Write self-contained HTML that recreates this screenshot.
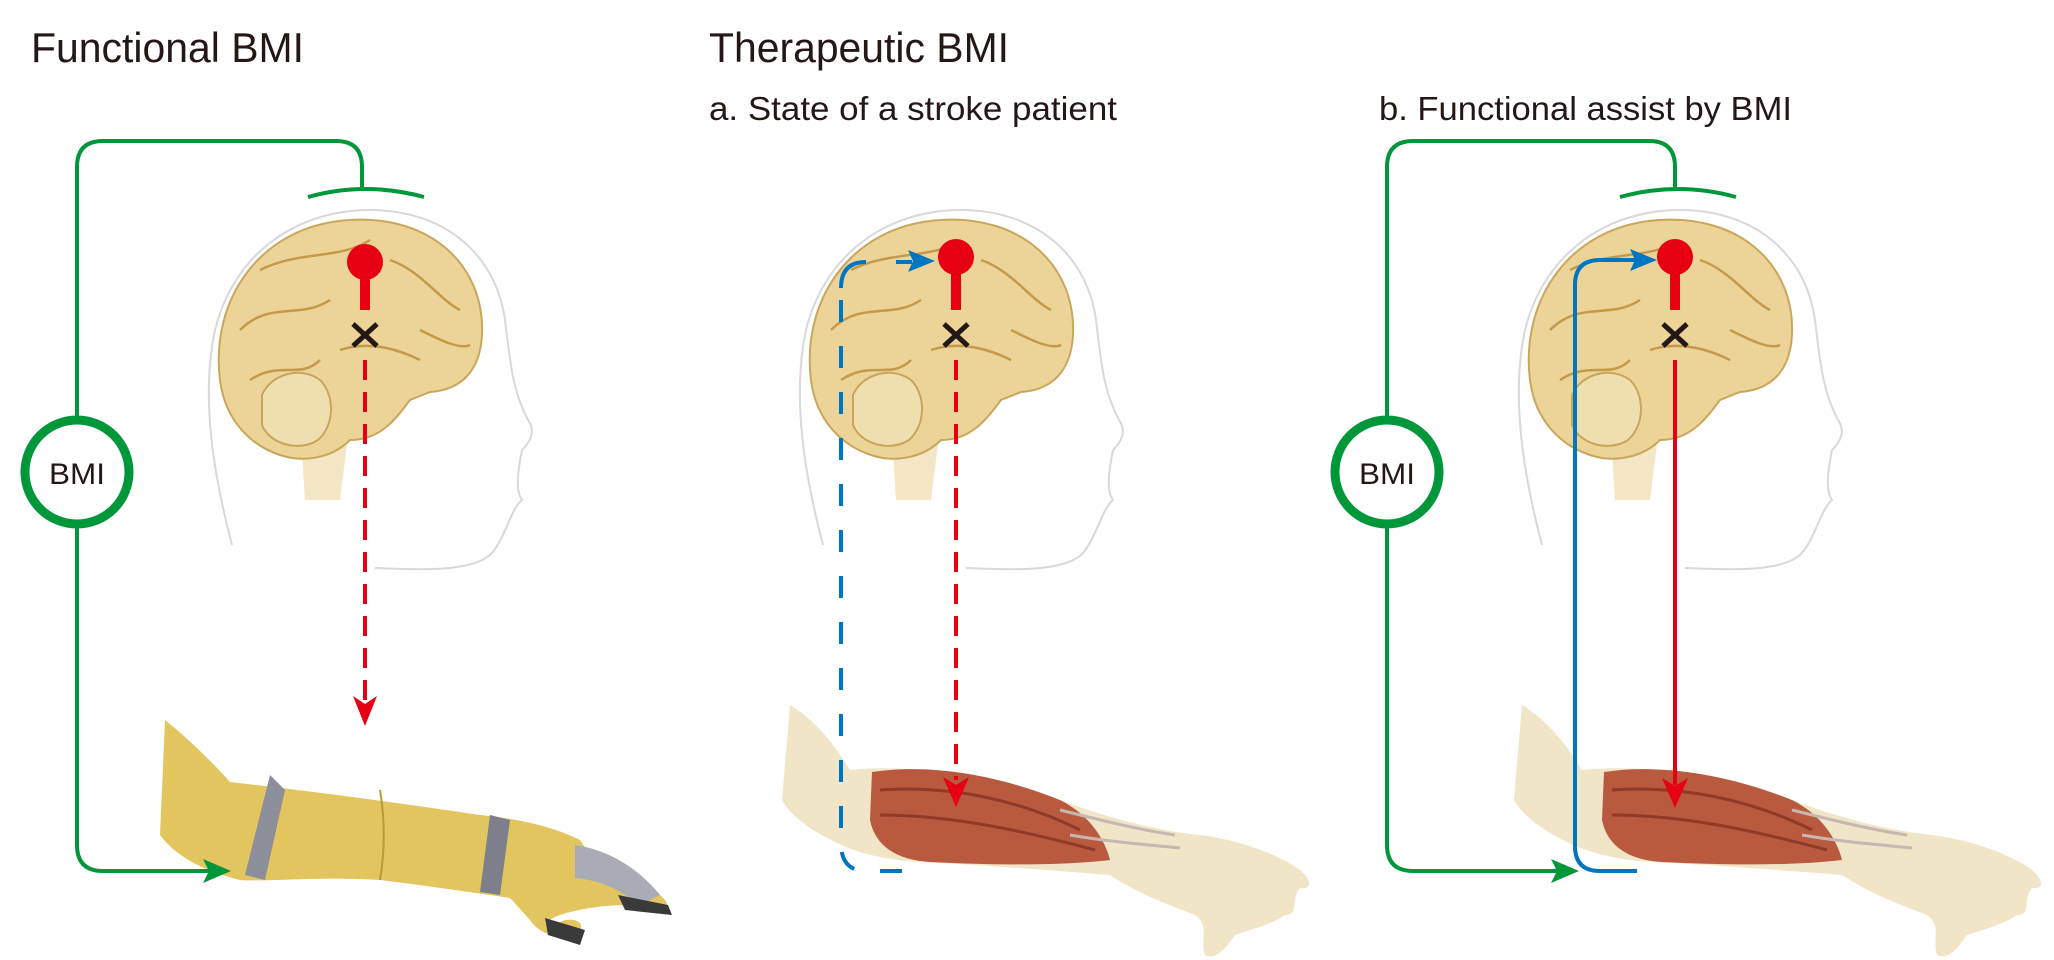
<!DOCTYPE html>
<html><head><meta charset="utf-8"><style>
html,body{margin:0;padding:0;background:#fff;}
svg{display:block;}
text{font-family:"Liberation Sans",sans-serif;fill:#231815;}
</style></head><body>
<svg width="2054" height="960" viewBox="0 0 2054 960" xmlns="http://www.w3.org/2000/svg">
<defs>
<g id="head">
  <!-- head outline -->
  <path d="M232 545 C215 480 200 400 215 330 C235 250 300 210 370 210 C440 210 495 250 505 320 C510 360 512 390 528 420 C535 430 532 440 522 450 C518 470 515 490 522 500 C510 510 505 540 490 555 C470 572 420 570 375 568" fill="none" stroke="#d8d8d8" stroke-width="2"/>
  <!-- brainstem -->
  <path d="M300 420 L350 420 L340 500 L305 500 Z" fill="#f3e6c4"/>
  <!-- brain -->
  <path d="M220 380 C210 300 260 225 350 220 C430 215 485 265 482 335 C480 372 460 390 430 392 L410 400 C395 420 380 440 350 440 C330 460 300 462 280 455 C250 445 225 420 220 380 Z" fill="#ecd498" stroke="#caa65a" stroke-width="2"/>
  <path d="M240 330 C270 300 300 320 330 300 M260 270 C300 250 340 260 370 240 M390 260 C420 270 440 300 460 310 M250 380 C280 360 300 380 320 360 M420 330 C440 340 460 350 470 345 M340 350 C370 340 400 350 420 360" fill="none" stroke="#c49a4a" stroke-width="2.5"/>
  <!-- cerebellum -->
  <path d="M262 395 C270 375 300 365 320 380 C335 395 335 425 318 440 C300 452 270 445 262 425 Z" fill="#f0dfae" stroke="#c9a55c" stroke-width="2"/>
</g>
<g id="muscarm">
  <path d="M790 705 C815 720 835 745 850 770 C900 765 980 770 1060 800 C1100 815 1150 830 1200 835 C1240 840 1280 855 1300 870 C1312 880 1312 890 1300 888 C1290 900 1300 915 1285 915 C1270 925 1250 930 1235 935 C1225 950 1215 960 1205 955 C1200 940 1210 925 1195 915 C1170 905 1140 895 1110 875 C1050 870 980 865 920 862 C880 860 850 850 835 842 C810 830 790 815 782 800 Z" fill="#f1e5c8"/>
  <path d="M872 772 C940 762 1010 780 1060 800 C1090 815 1105 840 1110 860 C1060 866 990 865 930 862 C895 860 875 845 870 820 Z" fill="#b95a3e"/>
  <path d="M880 790 C950 785 1020 800 1080 830 M880 815 C950 815 1020 830 1095 850" stroke="#8f3a26" stroke-width="3" fill="none"/>
  <path d="M1060 810 C1100 820 1140 830 1175 835 M1070 835 C1110 842 1150 845 1180 848" stroke="#c8b6b0" stroke-width="3" fill="none"/>
</g>
</defs>

<!-- titles -->
<text x="31" y="62" font-size="42" textLength="273" lengthAdjust="spacingAndGlyphs">Functional BMI</text>
<text x="709" y="62" font-size="42" textLength="300" lengthAdjust="spacingAndGlyphs">Therapeutic BMI</text>
<text x="709" y="120" font-size="33" textLength="408" lengthAdjust="spacingAndGlyphs">a. State of a stroke patient</text>
<text x="1379" y="120" font-size="33" textLength="413" lengthAdjust="spacingAndGlyphs">b. Functional assist by BMI</text>

<!-- heads -->
<use href="#head"/>
<use href="#head" transform="translate(591,0)"/>
<use href="#head" transform="translate(1310,0)"/>

<!-- prosthetic arm panel 1 -->
<g>
  <path d="M165 720 C190 740 215 765 230 782 C300 790 380 800 480 815 C530 820 560 830 580 840 L600 870 C620 880 640 885 660 895 C672 905 668 912 655 910 L630 905 C600 905 575 910 560 915 C545 920 540 930 560 922 C575 915 590 925 575 935 C560 940 540 935 530 920 L510 898 C470 892 420 885 380 880 C320 876 270 882 240 880 C200 870 175 855 160 835 Z" fill="#e3c560"/>
  <path d="M380 790 C385 820 385 850 380 880" stroke="#b79a3c" stroke-width="2" fill="none"/>
  <path d="M270 775 L285 790 L265 880 L245 875 Z" fill="#8c8f99"/>
  <path d="M490 815 L510 820 L500 895 L480 892 Z" fill="#7d808a"/>
  <path d="M575 845 C610 850 640 870 660 895 L640 905 C620 890 600 880 575 878 Z" fill="#a9acb4"/>
  <path d="M618 895 L668 905 L672 915 L625 910 Z" fill="#3a3a3a"/>
  <path d="M545 918 L585 930 L580 945 L548 935 Z" fill="#3a3a3a"/>
</g>

<!-- muscle arms -->
<use href="#muscarm"/>
<use href="#muscarm" transform="translate(732,0)"/>

<!-- ===== panel 1 connectors ===== -->
<g fill="none" stroke="#00973b" stroke-width="4">
  <path d="M77 416 L77 167 Q77 141 103 141 L336 141 Q362 141 362 167 L362 190"/>
  <path d="M308 197 Q365 181 424 197"/>
  <path d="M77 528 L77 845 Q77 871 103 871 L210 871"/>
  <circle cx="77" cy="472" r="52" stroke-width="9"/>
</g>
<path d="M231 871 L203 859 L209 871 L203 883 Z" fill="#00973b"/>
<text x="77" y="484" font-size="30" text-anchor="middle" textLength="56" lengthAdjust="spacingAndGlyphs">BMI</text>

<circle cx="365" cy="262" r="18" fill="#e60012"/>
<rect x="360" y="262" width="10" height="48" fill="#e60012"/>
<path d="M353 324 L377 346 M377 324 L353 346" stroke="#231815" stroke-width="5"/>
<path d="M365 360 L365 700" stroke="#e60012" stroke-width="4" stroke-dasharray="20 12"/>
<path d="M365 726 L353 696 L365 704 L377 696 Z" fill="#e60012"/>

<!-- ===== panel 2 connectors ===== -->
<circle cx="956" cy="257" r="18" fill="#e60012"/>
<rect x="951" y="257" width="10" height="53" fill="#e60012"/>
<path d="M944 324 L968 346 M968 324 L944 346" stroke="#231815" stroke-width="5"/>
<path d="M956 360 L956 780" stroke="#e60012" stroke-width="4" stroke-dasharray="20 12"/>
<path d="M956 807 L943 777 L956 785 L969 777 Z" fill="#e60012"/>
<path d="M841 288 Q841 262 866 262 M896 262 L912 262" fill="none" stroke="#0075c2" stroke-width="4"/>
<path d="M935 261 L908 250 L913 261 L908 272 Z" fill="#0075c2"/>
<path d="M841 300 L841 843 Q841 871 866 871 M880 871 L904 871" fill="none" stroke="#0075c2" stroke-width="4" stroke-dasharray="22 24"/>

<!-- ===== panel 3 connectors ===== -->
<g fill="none" stroke="#00973b" stroke-width="4">
  <path d="M1387 416 L1387 167 Q1387 141 1413 141 L1649 141 Q1675 141 1675 167 L1675 190"/>
  <path d="M1620 197 Q1678 181 1736 197"/>
  <path d="M1387 528 L1387 845 Q1387 871 1413 871 L1558 871"/>
  <circle cx="1387" cy="472" r="52" stroke-width="9"/>
</g>
<path d="M1579 871 L1551 859 L1557 871 L1551 883 Z" fill="#00973b"/>
<text x="1387" y="484" font-size="30" text-anchor="middle" textLength="56" lengthAdjust="spacingAndGlyphs">BMI</text>

<path d="M1637 871 L1600 871 Q1575 871 1575 846 L1575 285 Q1575 260 1600 260 L1640 260" fill="none" stroke="#0075c2" stroke-width="4"/>
<path d="M1657 260 L1630 249 L1635 260 L1630 271 Z" fill="#0075c2"/>

<circle cx="1675" cy="257" r="18" fill="#e60012"/>
<rect x="1670" y="257" width="10" height="53" fill="#e60012"/>
<path d="M1663 324 L1687 346 M1687 324 L1663 346" stroke="#231815" stroke-width="5"/>
<path d="M1675 360 L1675 785" stroke="#e60012" stroke-width="4"/>
<path d="M1675 808 L1662 778 L1675 786 L1688 778 Z" fill="#e60012"/>
</svg>
</body></html>
